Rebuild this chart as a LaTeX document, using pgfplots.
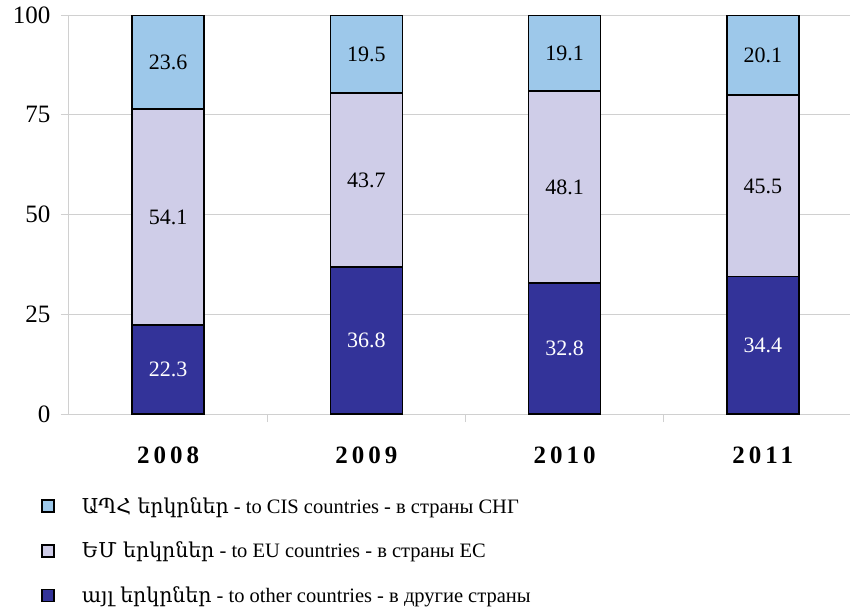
\documentclass[border=0pt]{standalone}
\usepackage{pgfplots}
\usepackage{pgfplotstable}
\pgfplotsset{compat=1.18}
\usepackage{fontspec}
\setmainfont{Liberation Serif}
\newfontfamily\armfont{DejaVu Serif}
\newfontfamily\yearfont[LetterSpace=16]{Liberation Serif}
\definecolor{cis}{HTML}{9DC8EA}
\definecolor{eu}{HTML}{CFCDE8}
\definecolor{oth}{HTML}{333399}
\definecolor{gridc}{HTML}{D0D0D0}
\pgfplotstableread{
x y
0 22.3
1 36.8
2 32.8
3 34.4
}\other
\pgfplotstableread{
x y
0 54.1
1 43.7
2 48.1
3 45.5
}\eu
\pgfplotstableread{
x y
0 23.6
1 19.5
2 19.1
3 20.1
}\cis
\begin{document}
\begin{tikzpicture}
\begin{axis}[
  scale only axis, width=781pt, height=399pt,
  ybar stacked, bar width=72pt,
  xmin=-0.5, xmax=3.44, ymin=0, ymax=100,
  ytick={0,25,50,75,100},
  ymajorgrids, major grid style={gridc, line width=1pt},
  axis x line*=bottom, axis y line*=left,
  axis line style={gridc, line width=1pt, -},
  xtick={0,1,2,3}, xticklabels={2008,2009,2010,2011},
  minor xtick={0.5,1.5,2.5},
  tick align=outside,
  major tick length=8pt, minor tick length=8pt,
  major x tick style={draw=none},
  minor x tick style={gridc, line width=1pt},
  major y tick style={gridc, line width=1pt},
  /pgf/number format/assume math mode=true,
  yticklabel style={font=\fontsize{25}{30}\selectfont, xshift=-7pt},
  xticklabel style={font=\yearfont\bfseries\fontsize{25}{30}\selectfont, yshift=-21pt},
  point meta=explicit,
  nodes near coords={\pgfmathprintnumber[fixed,precision=1,fixed zerofill]{\pgfplotspointmeta}},
  every node near coord/.append style={anchor=center, font=\fontsize{22}{26}\selectfont},
  legend style={at={(-0.040,-0.198)}, anchor=north west, draw=none, fill=none, font=\fontsize{20.5}{24}\selectfont, row sep=23.5pt, /tikz/every odd column/.append style={column sep=25pt}},
  legend cell align=left,
  reverse legend,
  legend image code/.code={\draw[#1,draw=black,line width=1.8pt] (0pt,-6pt) rectangle (12pt,6pt);},
]
\addplot[fill=oth, draw=black, line width=1.5pt, every node near coord/.append style={text=white}] table[x=x, y=y, meta=y] {\other};
\addlegendentry{{\armfont այլ երկրներ} - to other countries - в другие страны}
\addplot[fill=eu, draw=black, line width=1.5pt] table[x=x, y=y, meta=y] {\eu};
\addlegendentry{{\armfont ԵՄ երկրներ} - to EU countries - в страны ЕС}
\addplot[fill=cis, draw=black, line width=1.5pt] table[x=x, y=y, meta=y] {\cis};
\addlegendentry{{\armfont ԱՊՀ երկրներ} - to CIS countries - в страны СНГ}
\coordinate (bl) at (rel axis cs:0,0);
\coordinate (tr) at (rel axis cs:1,1);
\end{axis}
\pgfresetboundingbox
\path ([xshift=-69pt,yshift=-200pt]bl) rectangle ([yshift=15pt]tr);
\end{tikzpicture}
\end{document}
